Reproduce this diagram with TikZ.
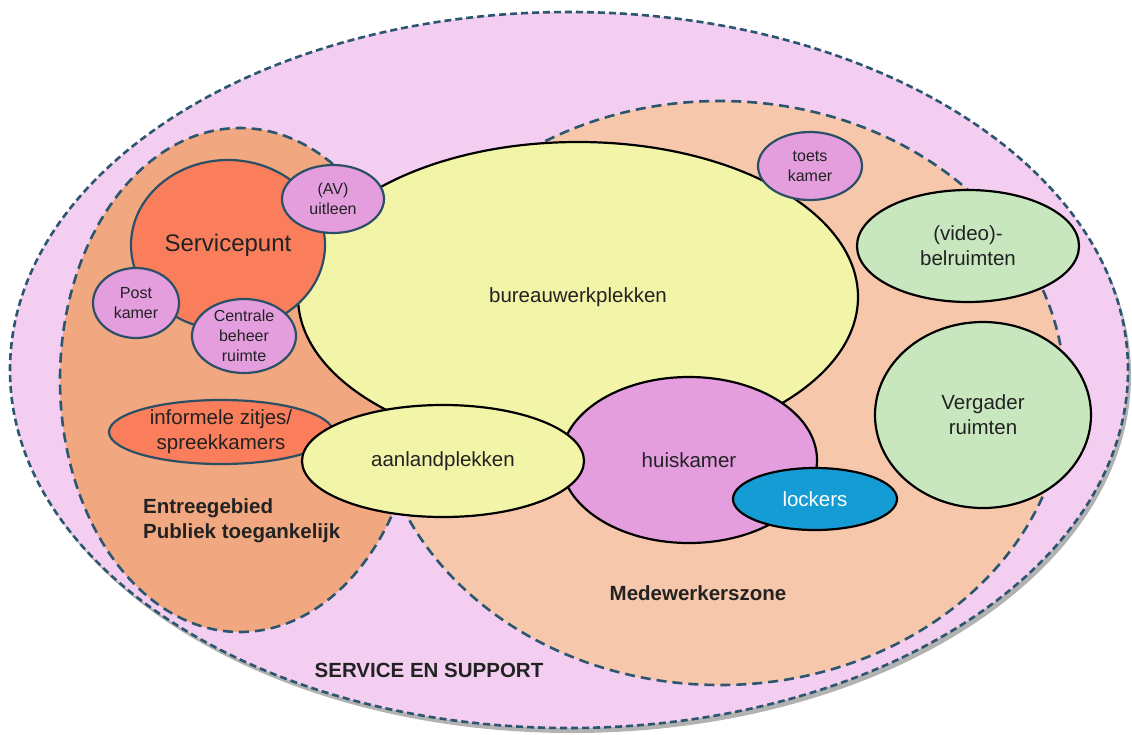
\documentclass[tikz,border=0pt]{standalone}
\usepackage{fontspec}
\setmainfont{Liberation Sans}
\usetikzlibrary{shapes.geometric,shadows}
\definecolor{outerpink}{HTML}{F3CEF0}
\definecolor{entree}{HTML}{F1A880}
\definecolor{medew}{HTML}{F6C7AB}
\definecolor{coral}{HTML}{FA7E5C}
\definecolor{pinkroom}{HTML}{E49EDE}
\definecolor{yellowroom}{HTML}{F2F5A8}
\definecolor{greenroom}{HTML}{C8E7BE}
\definecolor{lockblue}{HTML}{169CD4}
\definecolor{dashblue}{HTML}{2C5670}
\definecolor{smallline}{HTML}{2B5066}
\definecolor{txt}{HTML}{222222}
\begin{document}
\begin{tikzpicture}[x=1pt,y=-1pt,
  zone/.style={ellipse, draw=dashblue, line width=2.6pt, inner sep=0pt},
  room/.style={ellipse, draw=black, line width=2.2pt, inner sep=0pt, align=center,
    font=\fontsize{20.5}{25}\selectfont, text=txt},
  smallroom/.style={ellipse, draw=smallline, line width=2.2pt, inner sep=0pt, fill=pinkroom,
    align=center, font=\fontsize{16}{20}\selectfont, text=txt},
  lbl/.style={font=\fontsize{20.5}{25}\selectfont\bfseries, text=txt}]
\useasboundingbox (0,0) rectangle (1132,734);
% zones
\node[zone, fill=outerpink, dash pattern=on 7pt off 4pt, minimum width=1118pt, minimum height=716pt,
  drop shadow={shadow xshift=3pt, shadow yshift=-5pt, opacity=0.3, fill=black}] (outer) at (569,370) {};
\node[zone, fill=medew, dash pattern=on 10pt off 6pt, minimum width=690pt, minimum height=584pt] (medew) at (720,393) {};
\node[zone, fill=entree, dash pattern=on 10pt off 6pt, minimum width=360pt, minimum height=504pt] (entree) at (240,380) {};
% rooms
\node[room, fill=yellowroom, minimum width=560pt, minimum height=310pt] (bureau) at (578,297) {bureauwerkplekken};
\node[ellipse, draw=smallline, line width=2.2pt, fill=coral, inner sep=0pt, minimum width=194pt, minimum height=170pt,
  font=\fontsize{24}{28}\selectfont, text=txt] (service) at (228,245) {Servicepunt};
\node[smallroom, minimum width=102pt, minimum height=68pt] (av) at (333,199) {(AV)\\uitleen};
\node[smallroom, minimum width=86pt, minimum height=70pt] (post) at (136,303) {Post\\kamer};
\node[smallroom, minimum width=104pt, minimum height=74pt] (centrale) at (244,336) {Centrale\\beheer\\ruimte};
\node[smallroom, minimum width=104pt, minimum height=68pt] (toets) at (810,166) {toets\\kamer};
\node[room, fill=greenroom, minimum width=222pt, minimum height=112pt] (video) at (968,246) {(video)-\\belruimten};
\node[room, fill=greenroom, minimum width=216pt, minimum height=186pt] (vergader) at (983,415) {Vergader\\ruimten};
\node[room, fill=pinkroom, minimum width=256pt, minimum height=166pt] (huis) at (689,460) {huiskamer};
\node[room, fill=lockblue, text=white, minimum width=164pt, minimum height=62pt] (lockers) at (815,499) {lockers};
\node[ellipse, draw=smallline, line width=2.2pt, fill=coral, inner sep=0pt, minimum width=224pt, minimum height=64pt,
  align=center, font=\fontsize{20.5}{25}\selectfont, text=txt] (informeel) at (221,432) {informele zitjes/\\spreekkamers};
\node[room, fill=yellowroom, minimum width=282pt, minimum height=112pt] (aanland) at (443,461) {aanlandplekken};
% labels
\node[lbl, align=left, anchor=west, inner sep=0pt] (entreelbl) at (143,521) {Entreegebied\\Publiek toegankelijk};
\node[lbl, inner sep=0pt] (medewlbl) at (698,593) {Medewerkerszone};
\node[lbl, inner sep=0pt] (servlbl) at (429,670) {SERVICE EN SUPPORT};
\end{tikzpicture}
\end{document}
